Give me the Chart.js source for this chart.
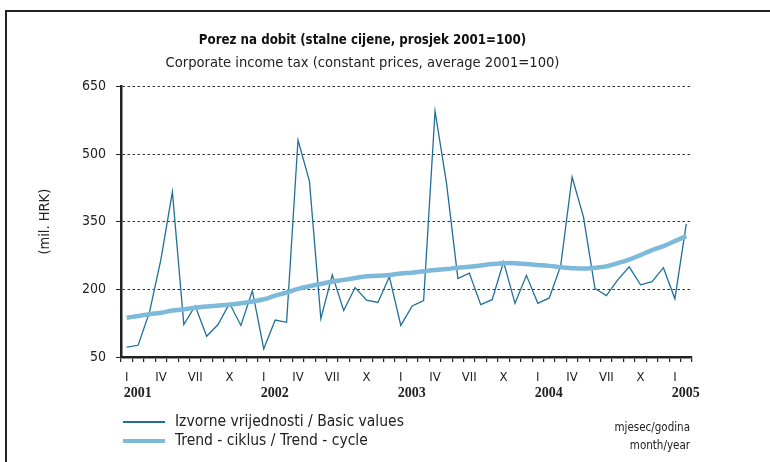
<!DOCTYPE html>
<html>
<head>
<meta charset="utf-8">
<script src="https://cdn.jsdelivr.net/npm/chart.js@4.4.0/dist/chart.umd.min.js"></script>
<style>
  body { margin: 0; background: #fff; }
  #wrap { position: relative; width: 770px; height: 462px; overflow: hidden; background: #fff; }
  #frame { position: absolute; left: 5px; top: 10px; width: 820px; height: 520px; border: 2px solid #222; box-sizing: border-box; }
  #chart { position: absolute; left: 0; top: 0; }
  .lg { position: absolute; font-family: "Liberation Sans Narrow", "DejaVu Sans Condensed", sans-serif; color: #222; white-space: nowrap; }
  .sw { position: absolute; left: 123px; width: 42px; }
</style>
</head>
<body>
<div id="wrap">
  <div id="frame"></div>
  <canvas id="chart" width="770" height="462"></canvas>
  <div class="sw" style="top:421px;height:2px;background:#1f6f98"></div>
  <div class="sw" style="top:439px;height:4px;background:#7db9d8"></div>
  <div class="lg" style="left:175px;top:412px;font-size:15.5px">Izvorne vrijednosti / Basic values</div>
  <div class="lg" style="left:175px;top:431px;font-size:15.5px">Trend - ciklus / Trend - cycle</div>
  <div class="lg" style="right:80px;top:420px;font-size:11.5px;text-align:right">mjesec/godina</div>
  <div class="lg" style="right:80px;top:438px;font-size:11.5px;text-align:right">month/year</div>
</div>
<script>
const monthNames = ["I", "II", "III", "IV", "V", "VI", "VII", "VIII", "IX", "X", "XI", "XII"];
const years = ["2001", "2002", "2003", "2004", "2005"];
const shownMonths = ["I", "IV", "VII", "X"];

// Jan 2001 .. Feb 2005
const basicValues = [
  72, 76, 150, 267, 416, 122, 163, 96, 122, 169, 120, 197,
  68, 132, 127, 531, 440, 135, 232, 153, 204, 176, 171, 228,
  120, 163, 175, 595, 436, 224, 236, 166, 177, 261, 169, 231,
  169, 181, 252, 449, 360, 202, 186, 221, 250, 210, 217, 248,
  179, 345
];
const trendValues = [
  137, 141, 145, 148, 153, 156, 159, 162, 164, 166, 169, 173,
  178, 186, 193, 201, 207, 212, 217, 221, 225, 229, 230, 232,
  235, 237, 240, 243, 245, 248, 250, 253, 256, 258, 258, 256,
  254, 252, 249, 247, 246, 248, 251, 258, 266, 276, 287, 296,
  307, 318
];
const yTicks = [50, 200, 350, 500, 650];

const categories = basicValues.map((_, i) => monthNames[i % 12] + " " + years[Math.floor(i / 12)]);

const narrow = "'Liberation Sans Narrow', 'DejaVu Sans Condensed', sans-serif";

const yearLabels = {
  id: "yearLabels",
  afterDraw(chart) {
    const ctx = chart.ctx;
    const x = chart.scales.x;
    ctx.save();
    ctx.font = "bold 14px 'Liberation Serif', serif";
    ctx.fillStyle = "#222";
    ctx.textBaseline = "middle";
    ctx.textAlign = "left";
    years.forEach((y, k) => {
      const idx = k * 12;
      if (idx < categories.length) ctx.fillText(y, x.getPixelForValue(idx) - 3, 393);
    });
    ctx.restore();
  }
};

new Chart(document.getElementById("chart"), {
  type: "line",
  data: {
    labels: categories,
    datasets: [
      {
        label: "Izvorne vrijednosti / Basic values",
        data: basicValues,
        borderColor: "#1f6f98",
        borderWidth: 1.3,
        pointRadius: 0,
        tension: 0,
        order: 2
      },
      {
        label: "Trend - ciklus / Trend - cycle",
        data: trendValues,
        borderColor: "#7db9d8",
        borderWidth: 4.5,
        pointRadius: 0,
        tension: 0.4,
        order: 1
      }
    ]
  },
  options: {
    responsive: false,
    animation: false,
    layout: { padding: { left: 33, right: 78, top: 0, bottom: 0 } },
    plugins: {
      legend: { display: false },
      tooltip: { enabled: false },
      title: {
        display: true,
        text: "Porez na dobit (stalne cijene, prosjek 2001=100)",
        color: "#111",
        font: { family: narrow, size: 13.2, weight: "bold" },
        padding: { top: 33, bottom: 6 }
      },
      subtitle: {
        display: true,
        text: "Corporate income tax (constant prices, average 2001=100)",
        color: "#222",
        font: { family: narrow, size: 14.6 },
        padding: { top: 0, bottom: 14 }
      }
    },
    scales: {
      x: {
        offset: true,
        afterFit: (s) => { s.height = 105; },
        grid: { offset: true, drawOnChartArea: false, tickLength: 5, color: "#222", lineWidth: 1.2 },
        border: { display: true, color: "#222", width: 2.5 },
        ticks: {
          autoSkip: false,
          maxRotation: 0,
          padding: 8,
          color: "#222",
          font: { family: narrow, size: 13 },
          callback: (v, i) => {
            const m = monthNames[i % 12];
            return shownMonths.includes(m) ? m : "";
          }
        }
      },
      y: {
        min: 50,
        max: 650,
        afterFit: (s) => { s.width = 88; },
        afterBuildTicks: (s) => { s.ticks = yTicks.map(v => ({ value: v })); },
        grid: { color: "#333", lineWidth: 1, tickLength: 5, tickColor: "#222", tickBorderDash: [] },
        border: { display: true, color: "#222", width: 2.5, dash: [2.5, 2.5] },
        ticks: { padding: 10, color: "#222", font: { family: narrow, size: 14 } },
        title: {
          display: true,
          text: "(mil. HRK)",
          color: "#222",
          font: { family: narrow, size: 14.5 },
          padding: { top: 4, bottom: 4 }
        }
      }
    }
  },
  plugins: [yearLabels]
});
</script>
</body>
</html>
